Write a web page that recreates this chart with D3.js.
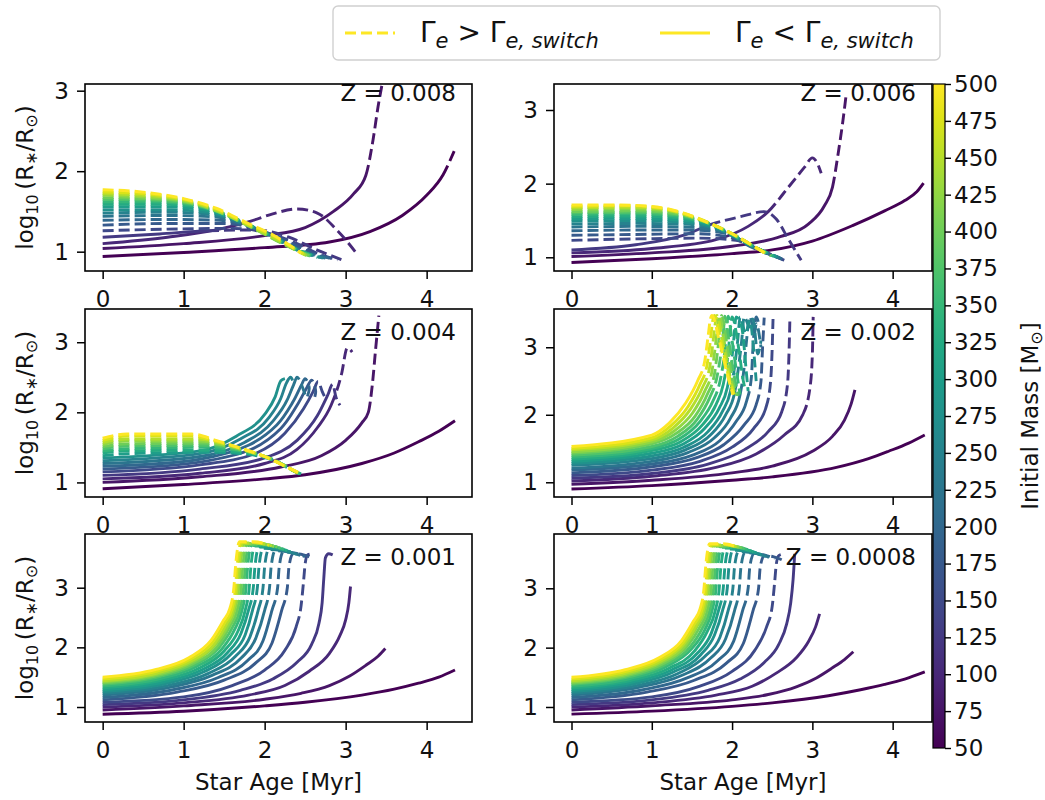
<!DOCTYPE html>
<html><head><meta charset="utf-8">
<script src="https://cdn.jsdelivr.net/npm/d3@7"></script>
<style>body{margin:0;background:#fff}svg{display:block}text{font-family:"DejaVu Sans",sans-serif;fill:#111}</style>
</head><body><svg id="c" width="1045" height="800"></svg>
<script>
const masses = [50,75,100,125,150,175,200,225,250,275,300,325,350,375,400,425,450,475,500];
const zLabels = ["Z = 0.008","Z = 0.006","Z = 0.004","Z = 0.002","Z = 0.001","Z = 0.0008"];
const xTicks = [0,1,2,3,4];
const yTicks = [1,2,3];
const cbarTicks = [50,75,100,125,150,175,200,225,250,275,300,325,350,375,400,425,450,475,500];

const tracksZ0008 = [
 [[0,0.94],[1,0.99],[2,1.05],[2.8,1.12],[3.3,1.25],[3.7,1.45],[4.0,1.7],[4.2,1.95],[4.34,2.25]],
 [[0,1.04],[1,1.1],[2,1.2],[2.5,1.3],[2.85,1.5],[3.1,1.72],[3.25,1.95],[3.34,2.4],[3.4,2.8],[3.45,3.08]],
 [[0,1.1],[0.8,1.18],[1.4,1.27],[1.83,1.38],[2.1,1.47],[2.4,1.53],[2.65,1.48],[2.9,1.26],[3.15,0.96]],
 [[0,1.18],[0.7,1.22],[1.3,1.26],[1.9,1.27],[2.3,1.18],[2.65,1.02],[2.95,0.9]],
 [[0,1.26],[0.8,1.28],[1.6,1.29],[2.0,1.24],[2.4,1.1],[2.65,0.98],[2.9,0.9]],
 [[0,1.33],[0.8,1.35],[1.5,1.35],[1.9,1.28],[2.3,1.12],[2.6,0.98],[2.85,0.91]],
 [[0,1.39],[0.8,1.4],[1.45,1.39],[1.85,1.3],[2.25,1.12],[2.55,0.98],[2.8,0.92]],
 [[0,1.44],[0.8,1.45],[1.4,1.43],[1.8,1.32],[2.2,1.14],[2.5,0.99],[2.75,0.92]],
 [[0,1.48],[0.8,1.49],[1.35,1.46],[1.75,1.35],[2.15,1.16],[2.45,1.0],[2.72,0.92]],
 [[0,1.52],[0.8,1.52],[1.3,1.49],[1.7,1.37],[2.1,1.18],[2.4,1.02],[2.68,0.93]],
 [[0,1.56],[0.7,1.56],[1.25,1.52],[1.65,1.4],[2.05,1.21],[2.35,1.05],[2.65,0.93]],
 [[0,1.59],[0.7,1.59],[1.2,1.55],[1.6,1.42],[2.0,1.24],[2.35,1.05],[2.62,0.94]],
 [[0,1.62],[0.6,1.62],[1.15,1.57],[1.55,1.45],[1.95,1.26],[2.3,1.07],[2.6,0.94]],
 [[0,1.65],[0.6,1.64],[1.1,1.59],[1.5,1.47],[1.9,1.28],[2.25,1.09],[2.57,0.94]],
 [[0,1.67],[0.55,1.66],[1.05,1.61],[1.45,1.49],[1.85,1.3],[2.2,1.11],[2.55,0.95]],
 [[0,1.7],[0.5,1.68],[1.0,1.63],[1.4,1.51],[1.8,1.32],[2.15,1.14],[2.52,0.95]],
 [[0,1.72],[0.5,1.7],[1.0,1.64],[1.4,1.52],[1.8,1.33],[2.1,1.18],[2.5,0.96]],
 [[0,1.74],[0.5,1.72],[1.0,1.65],[1.4,1.53],[1.8,1.34],[2.1,1.2],[2.48,0.97]],
 [[0,1.77],[0.5,1.74],[1.0,1.66],[1.4,1.54],[1.8,1.35],[2.1,1.21],[2.45,0.98]]
];
const switchZ0008 = [7,6,3,2,0,0,0,0,0,0,0,0,0,0,0,0,0,0,0];

const tracksZ0006 = [
 [[0,0.93],[1,0.98],[2,1.05],[2.5,1.1],[3.0,1.22],[3.5,1.43],[3.9,1.63],[4.15,1.77],[4.3,1.89],[4.4,2.03]],
 [[0,1.01],[1,1.06],[2,1.15],[2.6,1.28],[2.95,1.45],[3.15,1.7],[3.25,1.95],[3.32,2.4],[3.38,2.85],[3.42,3.2]],
 [[0,1.06],[1,1.12],[1.8,1.24],[2.2,1.42],[2.45,1.62],[2.7,1.95],[2.9,2.22],[3.0,2.35],[3.06,2.28],[3.11,2.14]],
 [[0,1.1],[0.8,1.17],[1.4,1.3],[1.72,1.44],[2.1,1.55],[2.4,1.62],[2.55,1.52],[2.7,1.25],[2.86,0.96]],
 [[0,1.23],[0.8,1.25],[1.6,1.26],[2.05,1.23],[2.35,1.1],[2.65,0.96]],
 [[0,1.3],[0.8,1.31],[1.55,1.32],[1.95,1.28],[2.3,1.11],[2.63,0.97]],
 [[0,1.36],[0.8,1.37],[1.5,1.37],[1.9,1.33],[2.3,1.12],[2.62,0.98]],
 [[0,1.41],[0.8,1.42],[1.45,1.41],[1.85,1.36],[2.3,1.12],[2.6,0.99]],
 [[0,1.45],[0.8,1.46],[1.4,1.45],[1.8,1.39],[2.3,1.12],[2.58,1.0]],
 [[0,1.49],[0.8,1.5],[1.35,1.48],[1.75,1.42],[2.3,1.13],[2.56,1.0]],
 [[0,1.52],[0.8,1.53],[1.3,1.51],[1.72,1.44],[2.3,1.13],[2.54,1.01]],
 [[0,1.55],[0.8,1.56],[1.3,1.54],[1.7,1.46],[2.3,1.13],[2.52,1.01]],
 [[0,1.58],[0.8,1.59],[1.3,1.56],[1.68,1.47],[2.3,1.13],[2.5,1.02]],
 [[0,1.6],[0.8,1.61],[1.3,1.58],[1.66,1.48],[2.0,1.32],[2.3,1.13],[2.49,1.02]],
 [[0,1.62],[0.8,1.63],[1.25,1.6],[1.65,1.49],[2.0,1.32],[2.3,1.13],[2.48,1.02]],
 [[0,1.65],[0.7,1.66],[1.2,1.63],[1.6,1.51],[2.0,1.32],[2.3,1.13],[2.47,1.03]],
 [[0,1.67],[0.7,1.68],[1.15,1.65],[1.55,1.53],[2.0,1.32],[2.3,1.13],[2.46,1.03]],
 [[0,1.69],[0.7,1.7],[1.1,1.67],[1.5,1.56],[2.0,1.32],[2.3,1.13],[2.45,1.03]],
 [[0,1.71],[0.6,1.71],[1.0,1.69],[1.4,1.6],[1.7,1.47],[2.0,1.32],[2.3,1.13],[2.45,1.03]]
];
const switchZ0006 = [8,6,4,3,0,0,0,0,0,0,0,0,0,0,0,0,0,0,0];

const tracksZ0004 = [
 [[0,0.91],[1,0.97],[2,1.05],[2.5,1.11],[3.2,1.27],[3.6,1.42],[3.9,1.58],[4.15,1.73],[4.35,1.88]],
 [[0,1.0],[1.2,1.08],[2.2,1.22],[2.7,1.38],[3.0,1.6],[3.2,1.85],[3.28,2.0],[3.33,2.4],[3.37,2.9],[3.41,3.38]],
 [[0,1.05],[1.2,1.13],[2.0,1.27],[2.4,1.47],[2.65,1.78],[2.82,2.1],[2.95,2.55],[3.02,2.92],[3.08,2.86]],
 [[0,1.1],[1.2,1.19],[2.0,1.35],[2.4,1.6],[2.65,1.95],[2.78,2.25],[2.84,2.4],[2.88,2.22],[2.93,2.1]],
 [[0,1.15],[1.2,1.25],[1.9,1.42],[2.25,1.7],[2.48,2.05],[2.6,2.3],[2.66,2.44],[2.71,2.3],[2.75,2.2]],
 [[0,1.19],[1.2,1.29],[1.85,1.48],[2.2,1.77],[2.4,2.1],[2.52,2.35],[2.58,2.46],[2.63,2.3],[2.6,2.15]],
 [[0,1.23],[1.2,1.33],[1.8,1.53],[2.15,1.82],[2.35,2.15],[2.45,2.38],[2.5,2.48],[2.55,2.35],[2.52,2.2]],
 [[0,1.27],[1.2,1.37],[1.75,1.57],[2.1,1.87],[2.28,2.18],[2.36,2.4],[2.4,2.5],[2.46,2.38],[2.5,2.25]],
 [[0,1.31],[1.2,1.41],[1.7,1.62],[2.05,1.92],[2.2,2.2],[2.27,2.42],[2.32,2.5],[2.36,2.4]],
 [[0,1.35],[1.2,1.45],[1.65,1.66],[2.0,1.97],[2.13,2.22],[2.2,2.45],[2.25,2.48]],
 [[0,1.38],[0.3,1.41],[1.4,1.43],[1.8,1.4],[2.1,1.32],[2.3,1.2],[2.45,1.12]],
 [[0,1.42],[0.3,1.45],[1.35,1.46],[1.75,1.42],[2.05,1.35],[2.25,1.24],[2.35,1.17],[2.44,1.12]],
 [[0,1.45],[0.3,1.48],[1.3,1.5],[1.7,1.45],[2.0,1.37],[2.2,1.27],[2.33,1.18],[2.43,1.12]],
 [[0,1.48],[0.3,1.52],[1.3,1.53],[1.65,1.47],[1.95,1.39],[2.15,1.3],[2.3,1.2],[2.42,1.13]],
 [[0,1.51],[0.3,1.55],[1.25,1.56],[1.6,1.5],[1.9,1.41],[2.1,1.33],[2.28,1.22],[2.4,1.14]],
 [[0,1.54],[0.3,1.59],[1.2,1.59],[1.55,1.52],[1.85,1.42],[2.05,1.35],[2.25,1.23],[2.4,1.14]],
 [[0,1.57],[0.3,1.62],[1.15,1.62],[1.5,1.55],[1.8,1.45],[2.0,1.37],[2.24,1.24],[2.4,1.14]],
 [[0,1.6],[0.3,1.66],[1.1,1.66],[1.45,1.57],[1.75,1.47],[2.0,1.37],[2.24,1.24],[2.41,1.14]],
 [[0,1.63],[0.3,1.69],[1.1,1.69],[1.4,1.6],[1.7,1.49],[2.0,1.37],[2.24,1.24],[2.42,1.14]]
];
const switchZ0004 = [8,6,5,5,5,5,5,5,5,5,0,0,0,0,0,0,0,0,0];

const tracksZ0002 = [
 [[0,0.9],[1,0.95],[2,1.03],[2.5,1.08],[3.3,1.22],[3.7,1.35],[3.95,1.46],[4.2,1.58],[4.4,1.7]],
 [[0,0.97],[1,1.03],[2,1.14],[2.5,1.24],[3.0,1.46],[3.25,1.68],[3.4,1.92],[3.48,2.15],[3.53,2.37]],
 [[0,1.02],[1,1.09],[1.8,1.22],[2.3,1.42],[2.65,1.7],[2.88,2.0],[2.97,2.4],[3.0,2.9],[3.01,3.45]],
 [[0,1.06],[1,1.13],[1.7,1.27],[2.15,1.48],[2.45,1.75],[2.62,2.05],[2.69,2.45],[2.71,2.95],[2.72,3.42]],
 [[0,1.1],[1,1.18],[1.6,1.31],[2.0,1.52],[2.27,1.8],[2.42,2.1],[2.48,2.5],[2.5,3.0],[2.51,3.42]],
 [[0,1.14],[1,1.23],[1.55,1.36],[1.9,1.56],[2.15,1.85],[2.3,2.15],[2.36,2.5],[2.38,3.0],[2.4,3.44]],
 [[0,1.18],[1,1.27],[1.5,1.4],[1.85,1.62],[2.05,1.9],[2.18,2.2],[2.24,2.55],[2.26,3.0],[2.3,3.45],[2.34,3.3]],
 [[0,1.21],[1,1.31],[1.45,1.44],[1.78,1.66],[1.98,1.95],[2.1,2.3],[2.15,2.7],[2.18,3.1],[2.22,3.45],[2.28,3.2],[2.3,3.35],[2.36,3.0]],
 [[0,1.25],[1,1.35],[1.42,1.48],[1.73,1.7],[1.92,2.0],[2.03,2.32],[2.08,2.7],[2.12,3.1],[2.15,3.45],[2.22,3.3],[2.26,3.42],[2.32,2.9],[2.36,3.1]],
 [[0,1.28],[1,1.39],[1.4,1.52],[1.7,1.75],[1.88,2.05],[1.98,2.35],[2.03,2.7],[2.07,3.1],[2.1,3.45],[2.17,3.2],[2.22,3.4],[2.28,2.8],[2.3,2.5]],
 [[0,1.31],[1,1.43],[1.38,1.56],[1.66,1.8],[1.84,2.1],[1.94,2.4],[1.99,2.75],[2.02,3.1],[2.05,3.45],[2.12,3.3],[2.18,2.6],[2.2,2.35]],
 [[0,1.34],[1,1.47],[1.36,1.6],[1.63,1.85],[1.8,2.15],[1.89,2.45],[1.94,2.8],[1.97,3.15],[2.0,3.45],[2.08,3.0],[2.14,2.5],[2.17,2.35]],
 [[0,1.37],[1,1.5],[1.34,1.64],[1.6,1.9],[1.76,2.2],[1.85,2.5],[1.9,2.85],[1.93,3.2],[1.95,3.46],[2.0,3.1],[2.06,2.6],[2.1,2.3]],
 [[0,1.4],[1,1.53],[1.32,1.68],[1.57,1.94],[1.72,2.25],[1.81,2.55],[1.86,2.9],[1.89,3.2],[1.91,3.46],[1.97,3.0],[2.03,2.55],[2.08,2.28]],
 [[0,1.43],[1,1.57],[1.3,1.72],[1.54,1.98],[1.69,2.3],[1.78,2.6],[1.82,2.95],[1.85,3.25],[1.87,3.47],[1.94,3.0],[2.0,2.55],[2.06,2.28]],
 [[0,1.45],[1,1.6],[1.28,1.76],[1.51,2.03],[1.66,2.35],[1.75,2.65],[1.79,3.0],[1.82,3.3],[1.84,3.47],[1.9,3.1],[1.97,2.6],[2.04,2.3]],
 [[0,1.48],[1,1.63],[1.26,1.8],[1.48,2.08],[1.63,2.4],[1.72,2.7],[1.76,3.05],[1.79,3.35],[1.81,3.47],[1.88,3.1],[1.96,2.6],[2.03,2.3]],
 [[0,1.5],[1,1.66],[1.24,1.84],[1.45,2.12],[1.6,2.45],[1.69,2.75],[1.73,3.1],[1.76,3.4],[1.78,3.47],[1.86,3.1],[1.95,2.6],[2.02,2.3]],
 [[0,1.53],[1,1.7],[1.22,1.88],[1.42,2.17],[1.57,2.5],[1.66,2.8],[1.7,3.15],[1.73,3.42],[1.75,3.47],[1.84,3.1],[1.94,2.6],[2.01,2.3]]
];
const switchZ0002 = [8,8,5,5,5,5,5,5,5,5,5,5,4,4,4,4,4,4,4];

const tracksZ0001 = [
 [[0,0.88],[1,0.93],[2,1.02],[2.5,1.08],[3.2,1.2],[3.6,1.3],[3.9,1.4],[4.15,1.5],[4.35,1.62]],
 [[0,0.95],[1,1.02],[2,1.13],[2.45,1.23],[2.8,1.36],[3.05,1.52],[3.25,1.7],[3.4,1.85],[3.49,1.98]],
 [[0,1.0],[1,1.07],[1.8,1.2],[2.25,1.36],[2.55,1.6],[2.8,1.9],[2.93,2.2],[3.0,2.46],[3.04,2.75],[3.06,3.02]],
 [[0,1.04],[1,1.12],[1.7,1.28],[2.1,1.47],[2.4,1.75],[2.58,2.05],[2.67,2.4],[2.71,2.75],[2.73,3.15],[2.75,3.5],[2.79,3.57],[2.84,3.55]],
 [[0,1.08],[1,1.17],[1.6,1.36],[2.0,1.62],[2.25,1.95],[2.39,2.35],[2.45,2.7],[2.48,3.1],[2.5,3.4],[2.53,3.55],[2.6,3.57]],
 [[0,1.12],[0.92,1.25],[1.5,1.45],[1.89,1.74],[2.09,2.07],[2.21,2.62],[2.28,3.0],[2.3,3.35],[2.35,3.57],[2.48,3.55],[2.58,3.5]],
 [[0,1.16],[0.87,1.29],[1.42,1.49],[1.79,1.78],[1.98,2.11],[2.09,2.62],[2.16,3.0],[2.18,3.35],[2.23,3.6],[2.38,3.58],[2.5,3.52]],
 [[0,1.2],[0.83,1.33],[1.35,1.53],[1.71,1.82],[1.89,2.15],[2.0,2.62],[2.06,3.0],[2.08,3.35],[2.13,3.62],[2.3,3.6],[2.44,3.54]],
 [[0,1.23],[0.8,1.36],[1.3,1.56],[1.64,1.85],[1.82,2.18],[1.92,2.62],[1.98,3.0],[2.0,3.35],[2.05,3.64],[2.22,3.62],[2.4,3.56]],
 [[0,1.26],[0.77,1.39],[1.25,1.59],[1.58,1.88],[1.76,2.21],[1.85,2.62],[1.91,3.0],[1.93,3.35],[1.98,3.66],[2.16,3.65],[2.36,3.58]],
 [[0,1.29],[0.75,1.42],[1.22,1.62],[1.54,1.91],[1.71,2.24],[1.8,2.62],[1.86,3.0],[1.88,3.35],[1.93,3.68],[2.12,3.67],[2.32,3.6]],
 [[0,1.32],[0.73,1.45],[1.19,1.65],[1.5,1.94],[1.67,2.27],[1.76,2.62],[1.81,3.0],[1.83,3.35],[1.88,3.7],[2.08,3.69],[2.28,3.62]],
 [[0,1.35],[0.72,1.48],[1.16,1.68],[1.47,1.97],[1.63,2.3],[1.72,2.62],[1.77,3.0],[1.79,3.35],[1.84,3.71],[2.04,3.71],[2.24,3.64]],
 [[0,1.38],[0.7,1.51],[1.14,1.71],[1.44,2.0],[1.6,2.33],[1.69,2.62],[1.74,3.0],[1.76,3.35],[1.81,3.72],[2.0,3.72],[2.2,3.66]],
 [[0,1.4],[0.69,1.53],[1.12,1.73],[1.42,2.02],[1.57,2.35],[1.66,2.62],[1.71,3.0],[1.73,3.35],[1.78,3.73],[1.97,3.73],[2.16,3.68]],
 [[0,1.42],[0.68,1.55],[1.1,1.75],[1.39,2.04],[1.55,2.37],[1.63,2.62],[1.68,3.0],[1.7,3.35],[1.75,3.74],[1.94,3.74],[2.12,3.69]],
 [[0,1.44],[0.67,1.57],[1.09,1.77],[1.38,2.06],[1.53,2.39],[1.61,2.62],[1.66,3.0],[1.68,3.35],[1.73,3.75],[1.91,3.75],[2.09,3.7]],
 [[0,1.47],[0.66,1.6],[1.08,1.8],[1.36,2.09],[1.51,2.42],[1.59,2.62],[1.64,3.0],[1.66,3.35],[1.71,3.76],[1.89,3.76],[2.06,3.71]],
 [[0,1.5],[0.66,1.63],[1.07,1.83],[1.34,2.12],[1.49,2.45],[1.57,2.65],[1.62,3.0],[1.64,3.35],[1.69,3.77],[1.87,3.77],[2.04,3.72]]
];
const switchZ0001 = [8,8,9,10,5,5,5,5,5,5,5,5,5,5,5,5,5,5,5];

const tracksZ00008 = [
 [[0,0.88],[1,0.93],[2,1.01],[2.5,1.07],[3.2,1.19],[3.6,1.29],[3.9,1.38],[4.15,1.47],[4.4,1.59]],
 [[0,0.95],[1,1.02],[2,1.12],[2.45,1.21],[2.8,1.34],[3.05,1.49],[3.25,1.66],[3.4,1.8],[3.51,1.93]],
 [[0,1.0],[1,1.07],[1.8,1.2],[2.25,1.35],[2.55,1.57],[2.8,1.83],[2.95,2.1],[3.04,2.35],[3.09,2.57]],
 [[0,1.04],[1,1.12],[1.7,1.28],[2.1,1.47],[2.4,1.75],[2.58,2.05],[2.68,2.4],[2.73,2.75],[2.76,3.15],[2.78,3.58]],
 [[0,1.08],[1,1.17],[1.6,1.35],[2.0,1.6],[2.28,1.95],[2.43,2.35],[2.5,2.7],[2.53,3.1],[2.55,3.4],[2.58,3.55],[2.66,3.58]],
 [[0,1.12],[0.94,1.25],[1.53,1.45],[1.93,1.74],[2.14,2.07],[2.26,2.62],[2.33,3.0],[2.35,3.35],[2.4,3.55],[2.52,3.53],[2.62,3.48]],
 [[0,1.16],[0.89,1.29],[1.44,1.49],[1.82,1.78],[2.02,2.11],[2.13,2.62],[2.2,3.0],[2.22,3.35],[2.27,3.58],[2.41,3.56],[2.53,3.5]],
 [[0,1.2],[0.84,1.33],[1.37,1.53],[1.73,1.82],[1.92,2.15],[2.03,2.62],[2.09,3.0],[2.11,3.35],[2.16,3.6],[2.32,3.58],[2.46,3.52]],
 [[0,1.23],[0.81,1.36],[1.32,1.56],[1.66,1.85],[1.85,2.18],[1.95,2.62],[2.01,3.0],[2.03,3.35],[2.08,3.62],[2.24,3.6],[2.42,3.54]],
 [[0,1.26],[0.78,1.39],[1.27,1.59],[1.61,1.88],[1.78,2.21],[1.88,2.62],[1.94,3.0],[1.96,3.35],[2.01,3.64],[2.18,3.63],[2.38,3.56]],
 [[0,1.29],[0.76,1.42],[1.24,1.62],[1.57,1.91],[1.74,2.24],[1.83,2.62],[1.89,3.0],[1.91,3.35],[1.96,3.66],[2.14,3.65],[2.34,3.58]],
 [[0,1.32],[0.74,1.45],[1.21,1.65],[1.53,1.94],[1.69,2.27],[1.79,2.62],[1.84,3.0],[1.86,3.35],[1.91,3.68],[2.1,3.67],[2.3,3.6]],
 [[0,1.35],[0.73,1.48],[1.18,1.68],[1.49,1.97],[1.66,2.3],[1.75,2.62],[1.8,3.0],[1.82,3.35],[1.87,3.69],[2.06,3.69],[2.26,3.62]],
 [[0,1.38],[0.72,1.51],[1.16,1.71],[1.47,2.0],[1.63,2.33],[1.72,2.62],[1.77,3.0],[1.79,3.35],[1.84,3.7],[2.02,3.7],[2.22,3.64]],
 [[0,1.4],[0.7,1.53],[1.14,1.73],[1.44,2.02],[1.6,2.35],[1.69,2.62],[1.74,3.0],[1.76,3.35],[1.81,3.71],[1.99,3.71],[2.18,3.66]],
 [[0,1.42],[0.69,1.55],[1.12,1.75],[1.42,2.04],[1.57,2.37],[1.66,2.62],[1.71,3.0],[1.73,3.35],[1.78,3.72],[1.96,3.72],[2.14,3.67]],
 [[0,1.44],[0.68,1.57],[1.11,1.77],[1.4,2.06],[1.56,2.39],[1.64,2.62],[1.69,3.0],[1.71,3.35],[1.76,3.73],[1.93,3.73],[2.11,3.68]],
 [[0,1.47],[0.68,1.6],[1.1,1.8],[1.39,2.09],[1.54,2.42],[1.62,2.62],[1.67,3.0],[1.69,3.35],[1.74,3.74],[1.91,3.74],[2.08,3.69]],
 [[0,1.5],[0.67,1.63],[1.09,1.83],[1.37,2.12],[1.52,2.45],[1.6,2.65],[1.65,3.0],[1.67,3.35],[1.72,3.75],[1.89,3.75],[2.06,3.7]]
];
const switchZ00008 = [8,8,8,9,5,5,5,5,5,5,5,5,5,5,5,5,5,5,5];

// ---------- drawing ----------
const svg = d3.select("#c");
const color = d3.scaleSequential(d3.interpolateViridis).domain([50, 500]);
const FS = 23, LW = 2.9, DASH_ON = 11, DASH_OFF = 5;

const panels = [
  {x0:85, x1:472, y0:84,  y1:271, xd:[-0.218,4.56], yd:[0.76,3.083],  tracks:tracksZ0008,  sw:switchZ0008,  label:zLabels[0], ly:101},
  {x0:554,x1:932, y0:84,  y1:271, xd:[-0.218,4.49], yd:[0.814,3.353], tracks:tracksZ0006,  sw:switchZ0006,  label:zLabels[1], ly:101},
  {x0:85, x1:472, y0:309, y1:497, xd:[-0.218,4.56], yd:[0.792,3.474], tracks:tracksZ0004,  sw:switchZ0004,  label:zLabels[2], ly:340},
  {x0:554,x1:932, y0:309, y1:497, xd:[-0.218,4.49], yd:[0.782,3.567], tracks:tracksZ0002,  sw:switchZ0002,  label:zLabels[3], ly:340},
  {x0:85, x1:472, y0:534, y1:722, xd:[-0.218,4.56], yd:[0.749,3.9],   tracks:tracksZ0001,  sw:switchZ0001,  label:zLabels[4], ly:565},
  {x0:554,x1:932, y0:534, y1:722, xd:[-0.218,4.49], yd:[0.747,3.915], tracks:tracksZ00008, sw:switchZ00008, label:zLabels[5], ly:565}
];

const defs = svg.append("defs");
const isMonotone = pts => pts.every((d, k) => k === 0 || d[0] > pts[k - 1][0]);

panels.forEach((p, pi) => {
  const xs = d3.scaleLinear().domain(p.xd).range([p.x0, p.x1]);
  const ys = d3.scaleLinear().domain(p.yd).range([p.y1, p.y0]);
  defs.append("clipPath").attr("id", "clip" + pi).append("rect")
    .attr("x", p.x0).attr("y", p.y0).attr("width", p.x1 - p.x0).attr("height", p.y1 - p.y0);
  const g = svg.append("g").attr("clip-path", `url(#clip${pi})`);
  p.tracks.forEach((pts, i) => {
    const s = p.sw[i];
    const curve = isMonotone(pts) ? d3.curveMonotoneX : d3.curveCatmullRom.alpha(0.5);
    const line = d3.line().x(d => xs(d[0])).y(d => ys(d[1])).curve(curve);
    const path = g.append("path").attr("d", line(pts))
      .attr("fill", "none").attr("stroke", color(masses[i])).attr("stroke-width", LW);
    if (s >= pts.length - 1) return;             // fully solid (Gamma_e < switch)
    const total = path.node().getTotalLength();
    let L1 = 0;
    if (s > 0) {
      const tmp = g.append("path").attr("d", line(pts.slice(0, s + 1)));
      L1 = tmp.node().getTotalLength();
      tmp.remove();
    }
    const arr = [];
    if (L1 > 0) arr.push(L1.toFixed(1), 0);
    let acc = L1;
    while (acc < total + 20) { arr.push(DASH_ON, DASH_OFF); acc += DASH_ON + DASH_OFF; }
    path.attr("stroke-dasharray", arr.join(" "));
  });
  svg.append("text").attr("x", p.x1 - 16).attr("y", p.ly).attr("text-anchor", "end")
    .attr("font-size", FS).text(p.label);
  svg.append("rect").attr("x", p.x0).attr("y", p.y0).attr("width", p.x1 - p.x0).attr("height", p.y1 - p.y0)
    .attr("fill", "none").attr("stroke", "#000").attr("stroke-width", 1.6);
  const ax = svg.append("g").attr("transform", `translate(0,${p.y1})`)
    .call(d3.axisBottom(xs).tickValues(xTicks).tickSize(8).tickPadding(12).tickFormat(d3.format("d")));
  const ay = svg.append("g").attr("transform", `translate(${p.x0},0)`)
    .call(d3.axisLeft(ys).tickValues(yTicks).tickSize(8).tickPadding(8).tickFormat(d3.format("d")));
  [ax, ay].forEach(a => {
    a.select(".domain").remove();
    a.selectAll("line").attr("stroke", "#000").attr("stroke-width", 1.5);
    a.selectAll("text").attr("font-size", FS).attr("font-family", "DejaVu Sans").attr("fill", "#111");
  });
  if (p.x0 < 300) {
    const cy = (p.y0 + p.y1) / 2;
    const t = svg.append("text").attr("transform", `translate(33,${cy}) rotate(-90)`)
      .attr("text-anchor", "middle").attr("font-size", FS);
    t.append("tspan").text("log");
    t.append("tspan").attr("font-size", 16).attr("dy", 5).text("10");
    t.append("tspan").attr("dy", -5).text("\u2009(R");
    t.append("tspan").attr("font-size", 16).attr("dy", 4).text("\u2217");
    t.append("tspan").attr("dy", -4).text("/R");
    t.append("tspan").attr("font-size", 16).attr("dy", 4).text("\u2299");
    t.append("tspan").attr("dy", -4).text(")");
  }
  if (p.y0 > 500) {
    svg.append("text").attr("x", (p.x0 + p.x1) / 2).attr("y", 790).attr("text-anchor", "middle")
      .attr("font-size", FS).text("Star Age [Myr]");
  }
});

// ---------- colorbar ----------
const cb = {x0:933, x1:945, y0:84, y1:748};
const grad = defs.append("linearGradient").attr("id", "vir").attr("x1", 0).attr("y1", 1).attr("x2", 0).attr("y2", 0);
d3.range(0, 1.0001, 0.05).forEach(t => grad.append("stop").attr("offset", t).attr("stop-color", d3.interpolateViridis(t)));
svg.append("rect").attr("x", cb.x0).attr("y", cb.y0).attr("width", cb.x1 - cb.x0).attr("height", cb.y1 - cb.y0)
  .attr("fill", "url(#vir)").attr("stroke", "#000").attr("stroke-width", 1.2);
const cs = d3.scaleLinear().domain([50, 500]).range([cb.y1, cb.y0]);
const cax = svg.append("g").attr("transform", `translate(${cb.x1},0)`)
  .call(d3.axisRight(cs).tickValues(cbarTicks).tickSize(6).tickPadding(3).tickFormat(d3.format("d")));
cax.select(".domain").remove();
cax.selectAll("line").attr("stroke", "#000").attr("stroke-width", 1.4);
cax.selectAll("text").attr("font-size", FS).attr("font-family", "DejaVu Sans").attr("fill", "#111");
const cl = svg.append("text").attr("transform", `translate(1038,${(cb.y0 + cb.y1) / 2}) rotate(-90)`)
  .attr("text-anchor", "middle").attr("font-size", FS);
cl.append("tspan").text("Initial Mass [M");
cl.append("tspan").attr("font-size", 16).attr("dy", 4).text("\u2299");
cl.append("tspan").attr("dy", -4).text("]");

// ---------- legend ----------
const lg = svg.append("g");
lg.append("rect").attr("x", 333).attr("y", 6).attr("width", 607).attr("height", 54).attr("rx", 5)
  .attr("fill", "#fff").attr("stroke", "#d0d0d0").attr("stroke-width", 1.4);
const legendItems = [
  {dash: DASH_ON + "," + DASH_OFF, x: 345, tx: 420, op: " > "},
  {dash: null, x: 660, tx: 735, op: " < "}
];
legendItems.forEach(it => {
  lg.append("line").attr("x1", it.x).attr("x2", it.x + 50).attr("y1", 33).attr("y2", 33)
    .attr("stroke", color(500)).attr("stroke-width", LW).attr("stroke-dasharray", it.dash);
  const t = lg.append("text").attr("x", it.tx).attr("y", 42).attr("font-size", 28);
  t.append("tspan").text("\u0393");
  t.append("tspan").attr("font-size", 21).attr("font-style", "italic").attr("dy", 6).text("e");
  t.append("tspan").attr("dy", -6).text(it.op + "\u0393");
  t.append("tspan").attr("font-size", 21).attr("font-style", "italic").attr("dy", 6).text("e, switch");
});
</script></body></html>
